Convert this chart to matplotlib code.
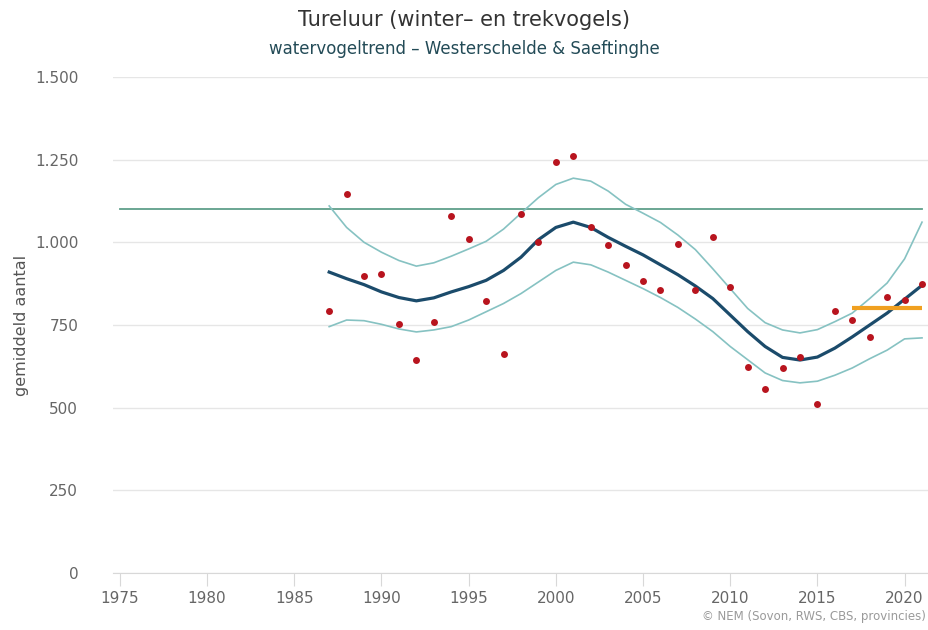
import numpy as np
import matplotlib
matplotlib.use("Agg")
import matplotlib.pyplot as plt
from matplotlib.ticker import FuncFormatter

# jaren en getelde aantallen (rode punten)
jaren = np.arange(1987, 2022)
aantallen = [792, 1146, 898, 904, 753, 644, 759, 1080, 1010, 823,
             662, 1086, 1001, 1243, 1261, 1046, 992, 931, 883, 856,
             995, 856, 1016, 865, 623, 556, 620, 653, 511, 792,
             765, 714, 835, 826, 874]

# trendlijn en betrouwbaarheidsband
trend = [910, 890, 872, 850, 833, 823, 832, 850, 866, 885,
         915, 955, 1008, 1045, 1061, 1045, 1015, 988, 962, 932,
         902, 868, 830, 780, 730, 685, 652, 644, 653, 680,
         714, 750, 786, 828, 870]
boven = [1110, 1045, 1000, 970, 945, 928, 938, 958, 980, 1003,
         1040, 1088, 1135, 1175, 1194, 1185, 1155, 1115, 1088, 1060,
         1022, 978, 920, 860, 800, 757, 735, 726, 736, 760,
         786, 830, 877, 950, 1061]
onder = [745, 765, 763, 752, 738, 729, 735, 745, 765, 790,
         815, 845, 880, 915, 940, 932, 910, 885, 860, 833,
         803, 768, 730, 685, 645, 605, 582, 575, 580, 598,
         620, 648, 674, 708, 711]

# referentieniveau en doel
referentie_jaren = [1975, 2021]
referentie = 1101
doel_jaren = [2017, 2021]
doel = 801

fig = plt.figure(figsize=(9.29, 6.3), dpi=100)
ax = fig.add_axes([0.1216, 0.0905, 0.8784, 0.7873])

ax.set_xlim(1974.6, 2021.4)
ax.set_ylim(0, 1500)
ax.set_yticks(np.arange(0, 1501, 250))
ax.set_xticks(np.arange(1975, 2021, 5))
ax.yaxis.set_major_formatter(FuncFormatter(lambda v, p: f"{int(v):,}".replace(",", ".")))

ax.grid(axis="y", color="#e6e6e6", linewidth=1)
ax.set_axisbelow(True)
for s in ["top", "right", "left"]:
    ax.spines[s].set_visible(False)
ax.spines["bottom"].set_color("#d8d8d8")
ax.tick_params(axis="y", length=0, pad=25, labelsize=11, labelcolor="#666666")
ax.tick_params(axis="x", length=9, color="#d8d8d8", pad=4, labelsize=11, labelcolor="#666666")

ax.plot(referentie_jaren, [referentie, referentie], color="#5f9f8a", linewidth=1.3, zorder=2)
ax.plot(jaren, boven, color="#86c2c2", linewidth=1.2, zorder=3)
ax.plot(jaren, onder, color="#86c2c2", linewidth=1.2, zorder=3)
ax.plot(jaren, trend, color="#1b4b6b", linewidth=2.3, zorder=4)
ax.plot(doel_jaren, [doel, doel], color="#f0a020", linewidth=3, solid_capstyle="butt", zorder=5)
ax.plot(jaren, aantallen, "o", color="#b8141e", markersize=5, markeredgewidth=0, zorder=6)

ax.set_ylabel("gemiddeld aantal", fontsize=11.5, color="#555555", labelpad=4)

fig.text(0.5, 0.968, "Tureluur (winter\u2013 en trekvogels)", ha="center", va="center",
         fontsize=15, color="#333333")
fig.text(0.5, 0.923, "watervogeltrend \u2013 Westerschelde & Saeftinghe", ha="center", va="center",
         fontsize=12, color="#234b57", fontweight="medium")
fig.text(0.997, 0.021, "\u00a9 NEM (Sovon, RWS, CBS, provincies)", ha="right", va="center",
         fontsize=8.5, color="#9a9a9a")

fig.savefig("out.png", dpi=100)
